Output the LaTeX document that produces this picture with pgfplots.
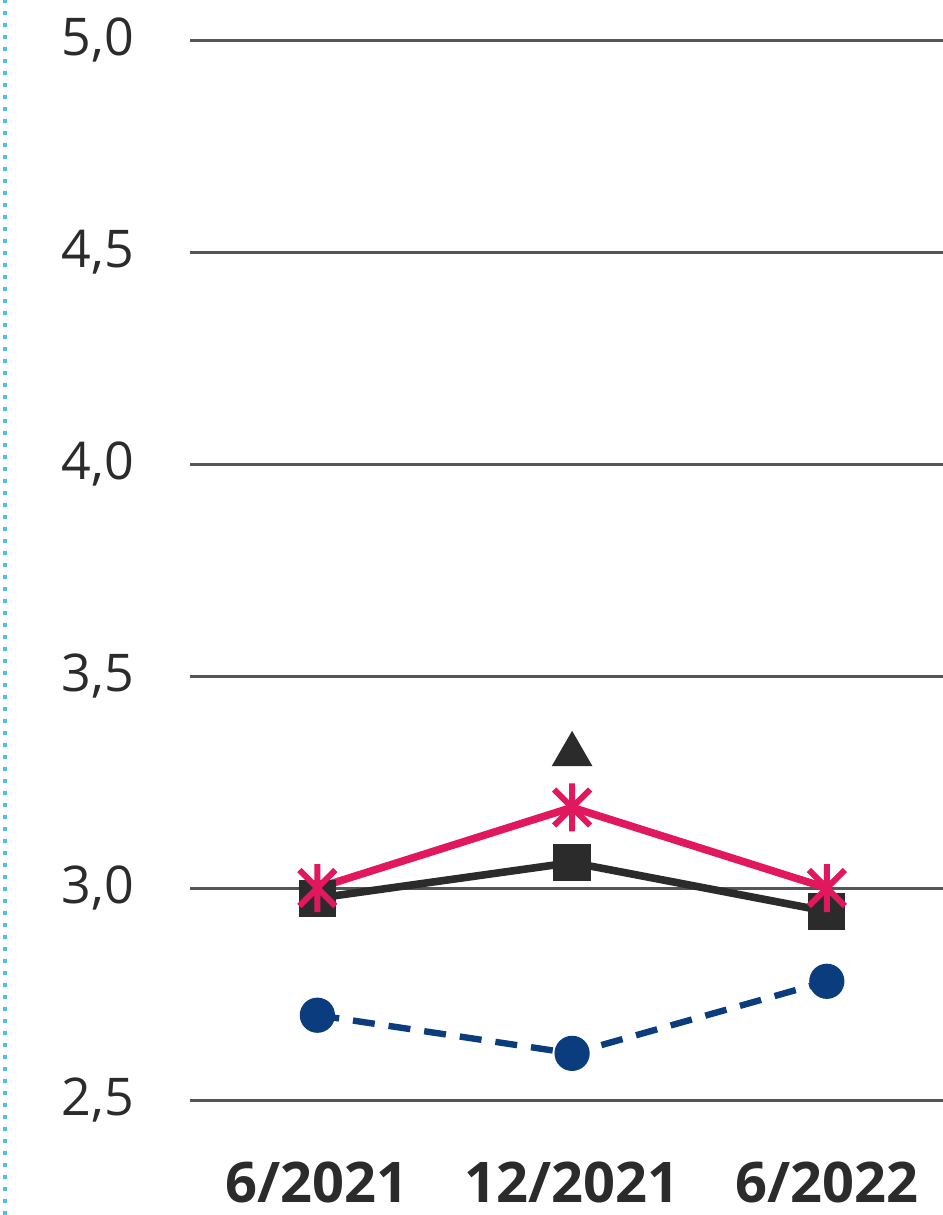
\documentclass[border=0pt]{standalone}
\usepackage{pgfplots}
\pgfplotsset{compat=1.18}
\usepackage{fontspec}
\setmainfont{Open Sans}
\definecolor{pinkline}{HTML}{E2185F}
\definecolor{darkline}{HTML}{2B2B2B}
\definecolor{navyline}{HTML}{0B3C7D}
\definecolor{gridc}{HTML}{555555}
\definecolor{dotc}{HTML}{4FC0DF}
\pgfdeclareplotmark{xstar}{%
  \pgfpathmoveto{\pgfqpoint{0pt}{\pgfplotmarksize}}%
  \pgfpathlineto{\pgfqpoint{0pt}{-\pgfplotmarksize}}%
  \pgfpathmoveto{\pgfqpoint{-0.75\pgfplotmarksize}{0.75\pgfplotmarksize}}%
  \pgfpathlineto{\pgfqpoint{0.75\pgfplotmarksize}{-0.75\pgfplotmarksize}}%
  \pgfpathmoveto{\pgfqpoint{-0.75\pgfplotmarksize}{-0.75\pgfplotmarksize}}%
  \pgfpathlineto{\pgfqpoint{0.75\pgfplotmarksize}{0.75\pgfplotmarksize}}%
  \pgfusepathqstroke}
\begin{document}
\begin{tikzpicture}
\path[use as bounding box] (-47.5pt,-28.75pt) rectangle (188.25pt,275pt);
\begin{axis}[
  scale only axis,
  width=188.25pt, height=265pt,
  xmin=-0.5, xmax=2.456,
  ymin=2.5, ymax=5.0,
  axis line style={draw=none},
  xtick={0,1,2},
  xticklabels={6/2021,12/2021,6/2022},
  ytick={2.5,3,3.5,4,4.5,5},
  major tick length=0pt,
  ymajorgrids,
  grid style={gridc, line width=0.75pt},
  yticklabel style={font=\fontsize{13}{15}\selectfont, text=darkline, anchor=east, xshift=-10.5pt},
  xticklabel style={font=\fontsize{14}{16}\selectfont\bfseries, text=darkline, anchor=north, yshift=-12pt},
  /pgf/number format/.cd, use comma, fixed, fixed zerofill, precision=1, assume math mode=true,
  /pgfplots/.cd,
  clip=false,
]
\addplot[navyline, line width=1.6pt, dash pattern=on 5.5pt off 3.5pt, mark=*, mark size=3.6pt, mark options={solid}]
  coordinates {(0,2.70) (1,2.61) (2,2.78)};
\addplot[darkline, line width=1.9pt, mark=square*, mark size=3.7pt]
  coordinates {(0,2.976) (1,3.06) (2,2.945)};
\addplot[pinkline, line width=1.9pt, mark=xstar, mark size=6pt, mark options={line width=1.5pt}]
  coordinates {(0,3.0) (1,3.19) (2,3.0)};
\addplot[only marks, darkline, mark=triangle*, mark size=5.5pt]
  coordinates {(1,3.315)};
\end{axis}
\draw[dotc, line width=1pt, dotted] (-46.25pt,-28.75pt) -- (-46.25pt,275pt);
\end{tikzpicture}
\end{document}
